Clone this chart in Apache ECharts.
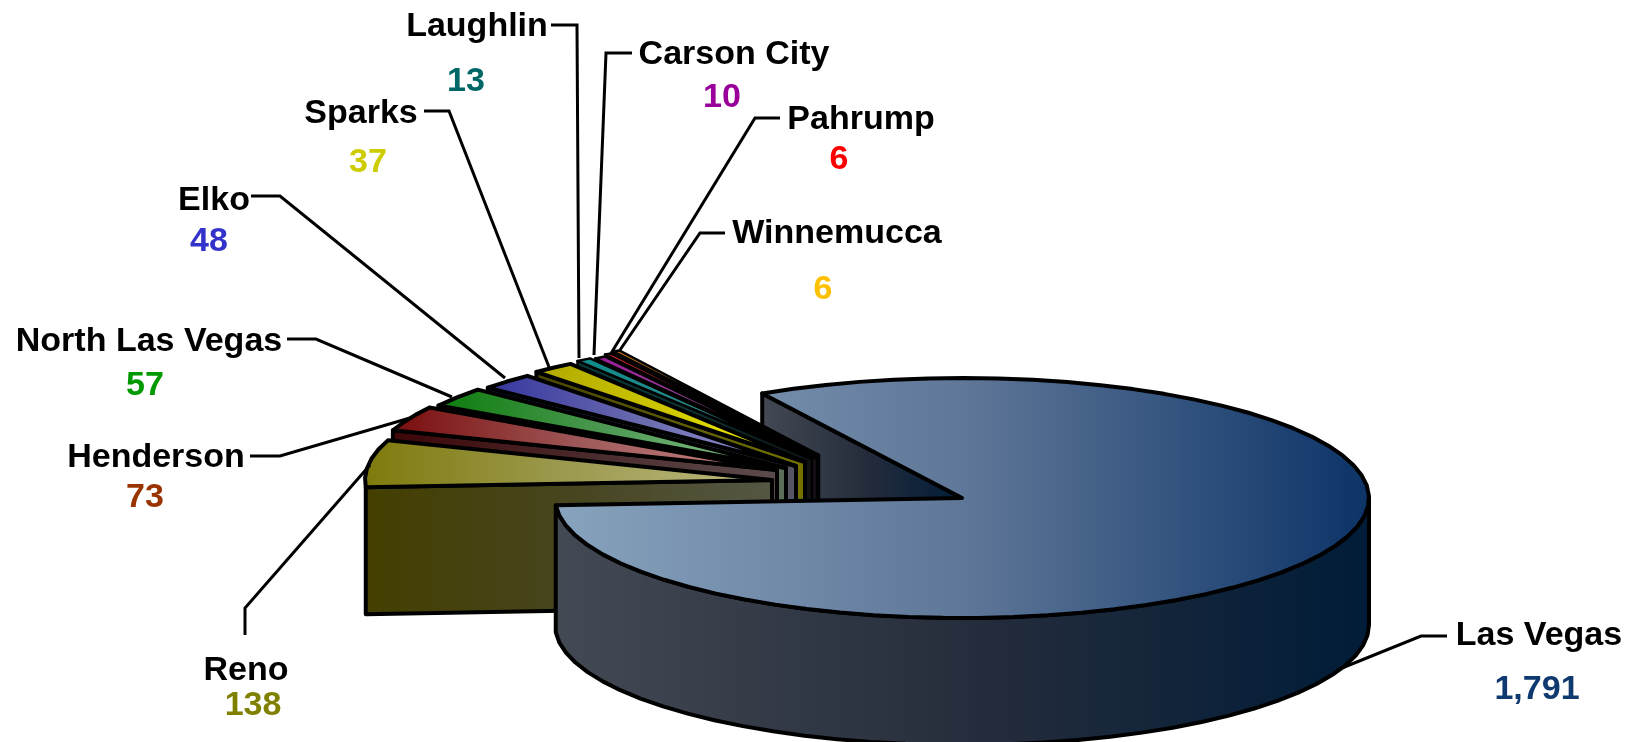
<!DOCTYPE html>
<html><head><meta charset="utf-8">
<style>html,body{margin:0;padding:0;background:#fff}#c{width:1637px;height:742px}</style>
<script src="https://cdn.jsdelivr.net/npm/echarts@6/dist/echarts.min.js"></script>
</head><body><div id="c"></div>
<script>
// --- data ---
var categories = ['Las Vegas','Reno','Henderson','North Las Vegas','Elko','Sparks','Laughlin','Carson City','Pahrump','Winnemucca'];
var values = [1791,138,73,57,48,37,13,10,6,6];
var valueLabels = ['1,791','138','73','57','48','37','13','10','6','6'];

// --- layout and styling (not data) ---
var START_ANGLE = 119.4, RX = 407, RY = 120, DEPTH = 127, STEP = 5, TEXT_DY = 3;
var apexes = [[962,498],[772,480],[777,470],[786,468],[796,466],[805,462],[812,459],[817,459],[817,457],[819,455]];
var topColors = [
  ['#87a3bd','#5f7798','#0c3367'],['#7f7a0c','#9c9a50','#bdbc80'],['#7a0c0c','#a05a5a','#c88888'],
  ['#0c7c0c','#4f9a55','#90c890'],['#35359f','#6a6aaf','#9a9ad6'],['#b0a800','#cfc800','#ffff00'],
  ['#0f8a8a','#2a8a8a','#50a0a0'],['#9a1a9a','#8f4a8f','#b080b0'],['#cc2020','#b04040','#c07070'],['#d07a10','#b08030','#c0a060']];
var wallColors = [
  ['#434a54','#262d3c','#001c38'],['#443f00','#47451f','#555744'],['#3e0508','#4a2a2c','#5d4c4c'],
  ['#053d05','#3a5a3e','#5e6e5c'],['#1a1a50','#3a3a5c','#565666'],['#4a4600','#5e5a00','#757200'],
  ['#063c3c','#0a3030','#101010'],['#3c0a3c','#301030','#181018'],['#400808','#200808','#100808'],['#402808','#201008','#100808']];
var labelPos = [[1539,633],[246,668],[156,455],[149,339],[214,198],[361,111],[477,24],[734,52],[861,117],[837,231]];
var valuePos = [[1537,687],[253,703],[145,495],[145,383],[209,239],[368,160],[466,79],[722,95],[839,157],[823,287]];
var valueColors = ['#0f3a70','#808000','#993300','#009900','#3333cc','#cccc00','#006666','#990099','#ff0000','#ffc000'];
var leaders = [
  [[1447,636],[1421,636],[1337,670]],[[245,635],[245,608],[370,465]],[[250,456],[280,456],[410,418]],
  [[287,339],[316,339],[452,397]],[[251,196],[280,196],[505,378]],[[424,111],[449,111],[549,367]],
  [[551,25],[577,25],[579,358]],[[632,53],[606,53],[594,355]],[[780,118],[755,118],[610,355]],[[725,233],[700,233],[620,350]]];

var total = values.reduce(function(a,b){return a+b;},0);
var spans = [], acc = START_ANGLE;
values.forEach(function(v){ var s = v/total*360; spans.push([acc, acc-s]); acc -= s; });

function pt(c,deg,dy){ var r = deg*Math.PI/180; return [c[0]+RX*Math.cos(r), c[1]-RY*Math.sin(r)+(dy||0)]; }
function arc(c,a,b,dy){ var out=[], n=Math.max(1,Math.ceil(Math.abs(a-b)/STEP));
  for(var i=0;i<=n;i++){ out.push(pt(c,a+(b-a)*i/n,dy)); } return out; }
function grad(cs){ return new echarts.graphic.LinearGradient(0,0,1,0,[{offset:0,color:cs[0]},{offset:.5,color:cs[1]},{offset:1,color:cs[2]}]); }
function poly(points,fill,z,w){ return {type:'polygon',z2:z,shape:{points:points},
  style:{fill:fill,stroke:'#000',lineWidth:w||4,lineJoin:'round'}}; }

function renderItem(params){
  var i = params.dataIndex, c = apexes[i], s = spans[i], kids = [];
  var topPts = [c].concat(arc(c,s[0],s[1]));
  if(i===0){
    // cut face at the start edge, sits behind the exploded slices
    var t = pt(c,s[0]);
    kids.push(poly([c,t,[t[0],t[1]+DEPTH],[c[0],c[1]+DEPTH]],grad(wallColors[0]),1));
    // front outer wall, from the far end of the slice round to the right edge
    kids.push(poly(arc(c,s[1],0).concat(arc(c,0,s[1],DEPTH)),grad(wallColors[0]),30));
    kids.push(poly(topPts,grad(topColors[0]),31));
  } else {
    var z = 2+2*(values.length-i), w = i>=6 ? 2.5 : 4;
    var e = pt(c,s[0]);
    kids.push(poly([e,c,[c[0],c[1]+DEPTH],[e[0],e[1]+DEPTH]],grad(wallColors[i]),z,w));
    kids.push(poly(topPts,grad(topColors[i]),z+1,w));
  }
  kids.push({type:'polyline',z2:40,shape:{points:leaders[i]},style:{fill:null,stroke:'#000',lineWidth:3,lineJoin:'miter'}});
  kids.push({type:'text',z2:50,style:{text:categories[i],x:labelPos[i][0],y:labelPos[i][1]+TEXT_DY,align:'center',verticalAlign:'middle',
    font:'bold 34px "Liberation Sans", Arial, sans-serif',fill:'#000'}});
  kids.push({type:'text',z2:50,style:{text:valueLabels[i],x:valuePos[i][0],y:valuePos[i][1]+TEXT_DY,align:'center',verticalAlign:'middle',
    font:'bold 34px "Liberation Sans", Arial, sans-serif',fill:valueColors[i]}});
  return {type:'group',children:kids};
}

var chart = echarts.init(document.getElementById('c'),null,{renderer:'canvas'});
chart.setOption({
  animation:false, backgroundColor:'#fff', tooltip:{show:false},
  series:[{type:'custom',coordinateSystem:'none',silent:true,clip:false,renderItem:renderItem,
    data:values.map(function(v,i){return {name:categories[i],value:v};})}]
});
</script></body></html>
